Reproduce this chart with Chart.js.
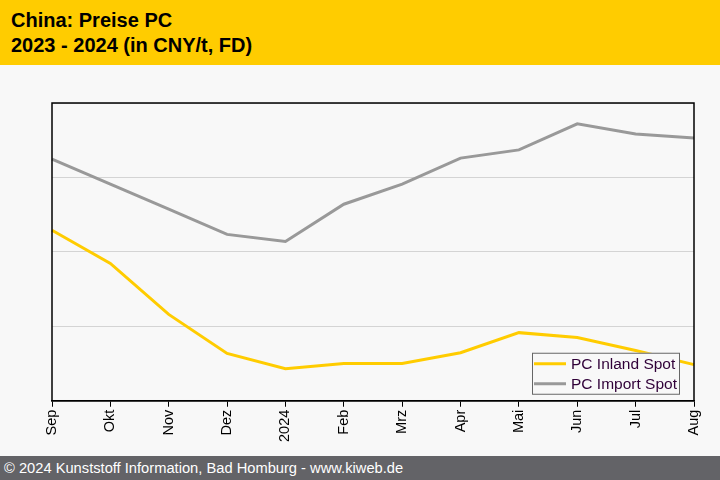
<!DOCTYPE html>
<html>
<head>
<meta charset="utf-8">
<script src="https://cdn.jsdelivr.net/npm/chart.js@4.4.1/dist/chart.umd.min.js"></script>
<style>
    html, body { margin: 0; padding: 0; }
    body { width: 720px; height: 480px; background: #f8f8f8; font-family: "Liberation Sans", Arial, sans-serif; position: relative; overflow: hidden; }
    #header { position: absolute; left: 0; top: 0; width: 720px; height: 65px; background: #ffcc00; }
    #header div { position: absolute; left: 11px; font-weight: bold; font-size: 20px; color: #000; line-height: 22px; }
    #footer { position: absolute; left: 0; top: 456px; width: 720px; height: 24px; background: #636367; color: #fff; font-size: 14.7px; line-height: 24px; padding-left: 4px; box-sizing: border-box; }
    #wrap { position: absolute; left: 0; top: 65px; width: 720px; height: 391px; }
</style>
</head>
<body>
<div id="header">
    <div style="top:9px">China: Preise PC</div>
    <div style="top:34px">2023 - 2024 (in CNY/t, FD)</div>
</div>
<div id="wrap"><canvas id="priceChart"></canvas></div>
<div id="footer">© 2024 Kunststoff Information, Bad Homburg - www.kiweb.de</div>
<script>
const months = ['Sep', 'Okt', 'Nov', 'Dez', '2024', 'Feb', 'Mrz', 'Apr', 'Mai', 'Jun', 'Jul', 'Aug'];
const inlandSpot = [16580, 15690, 14320, 13270, 12860, 13000, 13000, 13290, 13830, 13700, 13350, 12970];
const importSpot = [18490, 17820, 17150, 16470, 16280, 17280, 17820, 18520, 18740, 19440, 19170, 19060];
const seriesNames = ['PC Inland Spot', 'PC Import Spot'];
const seriesColors = ['#ffcc00', '#999999'];

// Rahmen um die Zeichenfläche
const frame = {
    id: 'frame',
    afterDatasetsDraw(chart) {
        const a = chart.chartArea;
        const ctx = chart.ctx;
        ctx.save();
        ctx.strokeStyle = '#000';
        ctx.lineWidth = 1.5;
        ctx.strokeRect(a.left, a.top, a.right - a.left, a.bottom - a.top);
        ctx.restore();
    }
};

// Legende unten rechts innerhalb der Zeichenfläche
const innerLegend = {
    id: 'innerLegend',
    afterDraw(chart) {
        const a = chart.chartArea;
        const ctx = chart.ctx;
        const w = 147, h = 41;
        const x = a.right - 15 - w, y = a.bottom - 7 - h;
        ctx.save();
        ctx.fillStyle = '#f8f8f8';
        ctx.fillRect(x, y, w, h);
        ctx.strokeStyle = '#666';
        ctx.lineWidth = 1;
        ctx.strokeRect(x + 0.5, y + 0.5, w, h);
        ctx.font = '15.5px "Liberation Sans", Arial, sans-serif';
        ctx.textBaseline = 'middle';
        chart.data.datasets.forEach((ds, i) => {
            const ly = y + 11 + i * 20;
            ctx.strokeStyle = ds.borderColor;
            ctx.lineWidth = 3;
            ctx.beginPath();
            ctx.moveTo(x + 2, ly);
            ctx.lineTo(x + 34, ly);
            ctx.stroke();
            ctx.fillStyle = '#300038';
            ctx.fillText(ds.label, x + 39, ly + 1);
        });
        ctx.restore();
    }
};

new Chart(document.getElementById('priceChart'), {
    type: 'line',
    data: {
        labels: months,
        datasets: [
            { label: seriesNames[0], data: inlandSpot, borderColor: seriesColors[0], borderWidth: 3, pointRadius: 0, tension: 0, fill: false },
            { label: seriesNames[1], data: importSpot, borderColor: seriesColors[1], borderWidth: 3, pointRadius: 0, tension: 0, fill: false }
        ]
    },
    options: {
        responsive: true,
        maintainAspectRatio: false,
        animation: false,
        layout: { padding: { left: 52, right: 26, top: 38, bottom: 11 } },
        plugins: { legend: { display: false }, tooltip: { enabled: false } },
        scales: {
            x: {
                offset: false,
                grid: { display: true, drawOnChartArea: false, drawTicks: true, tickLength: 6, color: '#000' },
                border: { display: true, color: '#000', width: 1.5 },
                ticks: { color: '#000', minRotation: 90, maxRotation: 90, autoSkip: false, padding: 3, font: { family: '"Liberation Sans", Arial, sans-serif', size: 14.5 } }
            },
            y: {
                min: 12000,
                max: 20000,
                ticks: { stepSize: 2000, display: false },
                grid: { color: '#d4d4d4', drawTicks: false },
                border: { display: false }
            }
        }
    },
    plugins: [frame, innerLegend]
});
</script>
</body>
</html>
